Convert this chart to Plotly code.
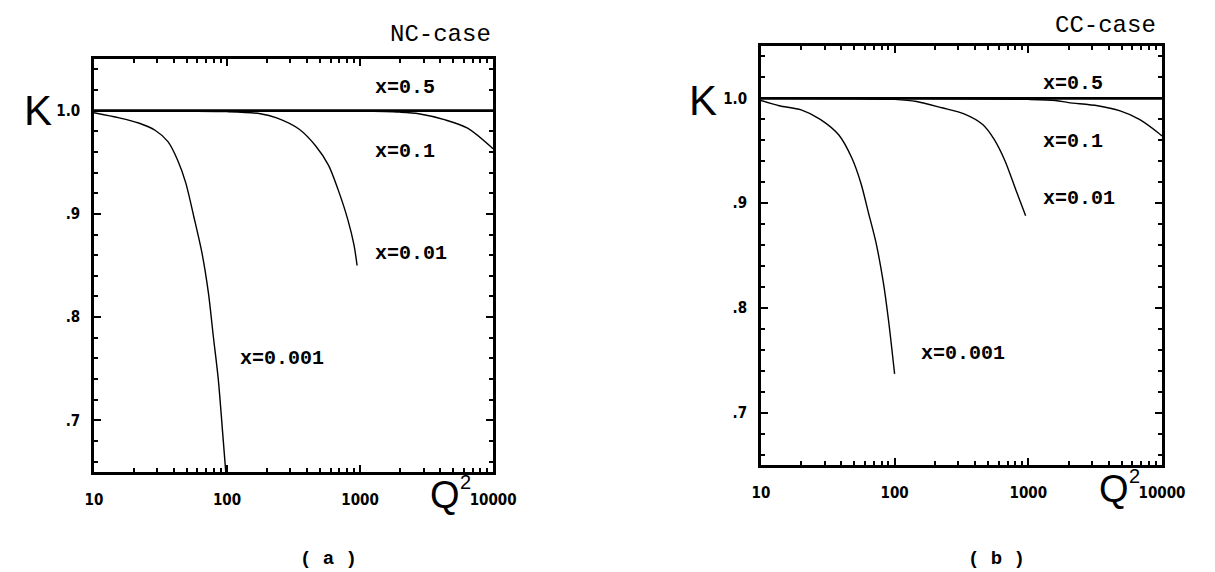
import plotly.graph_objects as go

W, H = 1215, 572

# ---------------- data ----------------
# (a) NC-case
nc_q_x05 = [10, 100, 1000, 10000]
nc_k_x05 = [1.0, 1.0, 1.0, 1.0]
nc_q_x01 = [10, 100, 1000, 2000, 2760, 4370, 6430, 10000]
nc_k_x01 = [1.0, 1.0, 0.9995, 0.9985, 0.997, 0.991, 0.983, 0.963]
nc_q_x001 = [10, 50, 100, 178, 236, 349, 463, 580, 686, 811, 900, 950]
nc_k_x001 = [1.0, 0.9995, 0.999, 0.997, 0.993, 0.982, 0.966, 0.947, 0.923, 0.894, 0.870, 0.850]
nc_q_x0001 = [10, 15.5, 21.7, 28.8, 36, 42.6, 49, 56.4, 64.9, 72.6, 79, 86, 93.3, 100]
nc_k_x0001 = [0.998, 0.993, 0.988, 0.981, 0.970, 0.952, 0.930, 0.897, 0.862, 0.823, 0.781, 0.740, 0.684, 0.635]

# (b) CC-case
cc_q_x05 = [10, 100, 1000, 10000]
cc_k_x05 = [1.0, 1.0, 1.0, 1.0]
cc_q_x01 = [10, 100, 1000, 1600, 2000, 3300, 4860, 6770, 9400, 10000]
cc_k_x01 = [1.0, 1.0, 0.999, 0.998, 0.996, 0.993, 0.988, 0.980, 0.967, 0.964]
cc_q_x001 = [10, 50, 100, 146, 226, 334, 456, 554, 671, 810, 955]
cc_k_x001 = [1.0, 0.9995, 0.999, 0.997, 0.991, 0.985, 0.975, 0.961, 0.940, 0.912, 0.888]
cc_q_x0001 = [10, 13.7, 20, 27.8, 38.3, 47.9, 56, 63.7, 72.4, 82.2, 90.3, 100]
cc_k_x0001 = [0.998, 0.993, 0.989, 0.980, 0.965, 0.943, 0.919, 0.891, 0.863, 0.825, 0.787, 0.737]

x_tickvals = [10, 100, 1000, 10000]
x_ticktext = ["10", "100", "1000", "10000"]
y_tickvals = [0.7, 0.8, 0.9, 1.0]
y_ticktext = [".7", ".8", ".9", "1.0"]
curve_labels = ["x=0.5", "x=0.1", "x=0.01", "x=0.001"]

# ---------------- figure ----------------
def px(x, y):
    return x / W, 1 - y / H

fig = go.Figure()

panels = [
    ("x", "y", [(nc_q_x05, nc_k_x05, 2.6), (nc_q_x01, nc_k_x01, 1.4),
                (nc_q_x001, nc_k_x001, 1.4), (nc_q_x0001, nc_k_x0001, 1.4)]),
    ("x2", "y2", [(cc_q_x05, cc_k_x05, 2.6), (cc_q_x01, cc_k_x01, 1.4),
                  (cc_q_x001, cc_k_x001, 1.4), (cc_q_x0001, cc_k_x0001, 1.4)]),
]
for xa, ya, curves in panels:
    for (q, k, w), name in zip(curves, curve_labels):
        fig.add_trace(go.Scatter(x=q, y=k, xaxis=xa, yaxis=ya, mode="lines",
                                 name=name, showlegend=False,
                                 line=dict(color="black", width=w, shape="spline", smoothing=0.8)))

tickfont = dict(family="Liberation Sans Narrow, DejaVu Sans Condensed, Arial Narrow, sans-serif",
                size=15, color="black", weight="bold")

def xaxis(dom, anchor):
    return dict(type="log", domain=dom, range=[1, 4], anchor=anchor,
                showline=True, linewidth=2.5, linecolor="black", mirror="ticks",
                showgrid=False, zeroline=False,
                ticks="inside", ticklen=7, tickwidth=2, tickcolor="black",
                tickvals=x_tickvals, ticktext=x_ticktext, tickfont=tickfont,
                ticklabelstandoff=12,
                minor=dict(ticks="inside", ticklen=4, tickwidth=1.5, tickcolor="black",
                           tickvals=[v * m for v in [10, 100, 1000] for m in range(2, 10)]))

def yaxis(dom, anchor):
    return dict(domain=dom, range=[0.65, 1.05], anchor=anchor,
                showline=True, linewidth=2.5, linecolor="black", mirror="ticks",
                showgrid=False, zeroline=False,
                ticks="inside", ticklen=7, tickwidth=2, tickcolor="black",
                tickvals=y_tickvals, ticktext=y_ticktext, tickfont=tickfont,
                ticklabelstandoff=8,
                minor=dict(ticks="inside", ticklen=4, tickwidth=1.5, tickcolor="black", dtick=0.02))

lx0, ly1 = px(79, 51)
lx1, ly0 = px(489, 464)
rx0, ry1 = px(764, 38)
rx1, ry0 = px(1176, 457)

fig.update_layout(
    width=W, height=H, margin=dict(l=0, r=0, t=0, b=0),
    paper_bgcolor="white", plot_bgcolor="white",
    xaxis=xaxis([lx0, lx1], "y"), yaxis=yaxis([ly0, ly1], "x"),
    xaxis2=xaxis([rx0, rx1], "y2"), yaxis2=yaxis([ry0, ry1], "x2"),
)

mono = "Liberation Mono, DejaVu Sans Mono, monospace"
big = "Liberation Sans, Arial, sans-serif"

def ann(text, x, y, xanchor="left", size=20, family=mono, weight="bold"):
    ax, ay = px(x, y)
    fig.add_annotation(text=text, x=ax, y=ay, xref="paper", yref="paper",
                       xanchor=xanchor, yanchor="middle", showarrow=False,
                       font=dict(family=family, size=size, color="black", weight=weight))

# panel (a)
ann("NC-case", 489, 27, xanchor="right", size=24, weight="normal")
ann(curve_labels[0], 366, 79)
ann(curve_labels[1], 366, 143)
ann(curve_labels[2], 366, 245)
ann(curve_labels[3], 227, 350)
ann("K", 22, 102, xanchor="center", size=42, family=big, weight="normal")
ann("Q", 440, 487, xanchor="center", size=38, family=big, weight="normal")
ann("2", 461, 474, xanchor="center", size=20, family=big, weight="normal")
ann("( a )", 320, 551, xanchor="center", size=19, weight="bold")

# panel (b)
ann("CC-case", 1172, 18, xanchor="right", size=24, weight="normal")
ann(curve_labels[0], 1052, 75)
ann(curve_labels[1], 1052, 133)
ann(curve_labels[2], 1052, 190)
ann(curve_labels[3], 926, 345)
ann("K", 705, 92, xanchor="center", size=42, family=big, weight="normal")
ann("Q", 1127, 481, xanchor="center", size=38, family=big, weight="normal")
ann("2", 1148, 468, xanchor="center", size=20, family=big, weight="normal")
ann("( b )", 1006, 551, xanchor="center", size=19, weight="bold")

fig.write_html("out.html")
